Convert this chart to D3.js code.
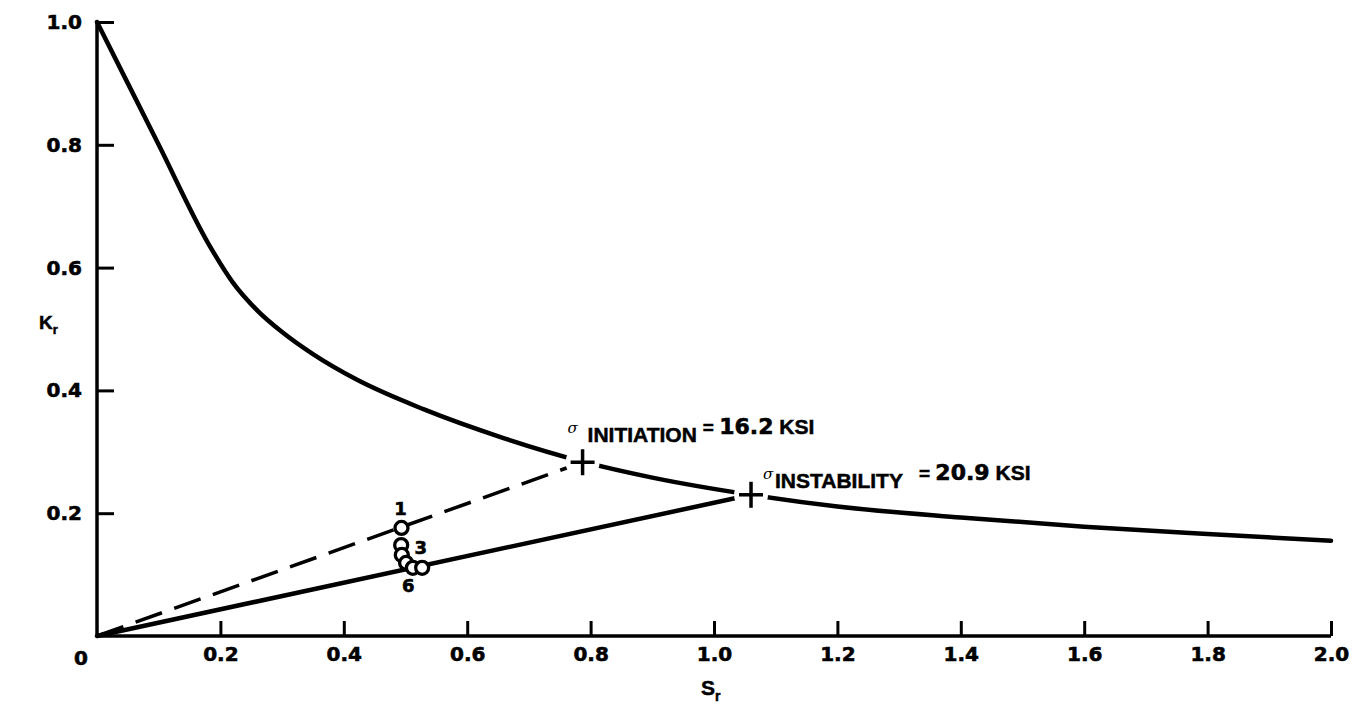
<!DOCTYPE html>
<html>
<head>
<meta charset="utf-8">
<script src="https://cdn.jsdelivr.net/npm/d3@7"></script>
<style>
  html, body { margin: 0; padding: 0; background: #fff; }
  svg { display: block; }
  .num { font-family: "DejaVu Sans", sans-serif; font-weight: bold; stroke: #000; stroke-width: 0.6px; }
  .word { font-family: "Liberation Sans", Arial, sans-serif; font-weight: bold; stroke: #000; stroke-width: 0.5px; }
</style>
</head>
<body>
<script>
// Residual strength curve K_r vs S_r
const curveS = [0, 0.10, 0.18, 0.22, 0.26, 0.30, 0.35, 0.42, 0.53, 0.66, 0.787, 0.90, 1.06, 1.2, 1.4, 1.6, 1.8, 2.0];
const curveK = [1.0, 0.80, 0.64, 0.576, 0.530, 0.495, 0.459, 0.418, 0.369, 0.322, 0.284, 0.258, 0.230, 0.211, 0.193, 0.178, 0.166, 0.155];

// Load lines from the origin to the two critical points
const initiationS = [0, 0.787];
const initiationK = [0, 0.283];
const instabilityS = [0, 1.06];
const instabilityK = [0, 0.230];

// Test points
const pointS = [0.4935, 0.493, 0.494, 0.501, 0.512, 0.527];
const pointK = [0.176, 0.148, 0.132, 0.119, 0.111, 0.111];
const pointLabels = ["1", "", "3", "", "", "6"];

const xTicks = [0.2, 0.4, 0.6, 0.8, 1.0, 1.2, 1.4, 1.6, 1.8, 2.0];
const yTicks = [0.2, 0.4, 0.6, 0.8, 1.0];

const W = 1360, H = 705;
const svg = d3.select("body").append("svg").attr("width", W).attr("height", H);

const x = d3.scaleLinear().domain([0, 2]).range([97, 1331]);
const y = d3.scaleLinear().domain([0, 1]).range([636, 22]);

const critical = [
  { s: initiationS[1], k: initiationK[1] },
  { s: instabilityS[1], k: instabilityK[1] }
];

// mask leaving small gaps in the lines around the critical-point crosses
const defs = svg.append("defs");
const mask = defs.append("mask").attr("id", "gaps").attr("maskUnits", "userSpaceOnUse")
  .attr("x", 0).attr("y", 0).attr("width", W).attr("height", H);
mask.append("rect").attr("width", W).attr("height", H).attr("fill", "#fff");
mask.selectAll("circle").data(critical).join("circle")
  .attr("cx", d => x(d.s)).attr("cy", d => y(d.k)).attr("r", 17).attr("fill", "#000");

// axes
const xAxis = d3.axisBottom(x).tickValues(xTicks).tickFormat(d3.format(".1f"))
  .tickSizeInner(-15).tickSizeOuter(0).tickPadding(11);
const gx = svg.append("g").attr("transform", `translate(0,${y(0)})`).call(xAxis);
gx.select(".domain").attr("stroke-width", 3.5).attr("d", `M${x(0)},0H${x(2)}`);
gx.selectAll(".tick line").attr("stroke-width", 3);
gx.selectAll(".tick text").attr("class", "num").attr("font-size", 20).attr("fill", "#000");

const yAxis = d3.axisLeft(y).tickValues(yTicks).tickFormat(d3.format(".1f"))
  .tickSizeInner(-17).tickSizeOuter(0).tickPadding(15);
const gy = svg.append("g").attr("transform", `translate(${x(0)},0)`).call(yAxis);
gy.select(".domain").attr("stroke-width", 3.5).attr("d", `M0,${y(0)}V${y(1)}`);
gy.selectAll(".tick line").attr("stroke-width", 3);
gy.selectAll(".tick text").attr("class", "num").attr("font-size", 20).attr("fill", "#000");

svg.append("text").attr("class", "num").attr("font-size", 20)
  .attr("x", 81).attr("y", 665).attr("text-anchor", "middle").text("0");

// axis titles
const xt = svg.append("text").attr("class", "word").attr("x", 701).attr("y", 695);
xt.append("tspan").attr("font-size", 21).text("S");
xt.append("tspan").attr("font-size", 14).attr("dy", 6).text("r");

const yt = svg.append("text").attr("class", "word").attr("x", 39).attr("y", 329);
yt.append("tspan").attr("font-size", 19).text("K");
yt.append("tspan").attr("font-size", 13).attr("dy", 5).text("r");

// curves
const lines = svg.append("g").attr("mask", "url(#gaps)")
  .attr("fill", "none").attr("stroke", "#000").attr("stroke-linecap", "round");

const curveLine = d3.line().x(d => x(d[0])).y(d => y(d[1])).curve(d3.curveMonotoneX);
lines.append("path").attr("d", curveLine(d3.zip(curveS, curveK))).attr("stroke-width", 4.5);

const straight = d3.line().x(d => x(d[0])).y(d => y(d[1]));
lines.append("path").attr("d", straight(d3.zip(instabilityS, instabilityK))).attr("stroke-width", 4.5);
lines.append("path").attr("d", straight(d3.zip(initiationS, initiationK)))
  .attr("stroke-width", 3.5).attr("stroke-linecap", "butt").attr("stroke-dasharray", "28,13");

// critical-point crosses
const cross = svg.append("g").attr("stroke", "#000").attr("stroke-width", 3.5);
critical.forEach(d => {
  const cx = x(d.s), cy = y(d.k);
  cross.append("line").attr("x1", cx - 12).attr("x2", cx + 12).attr("y1", cy).attr("y2", cy);
  cross.append("line").attr("x1", cx).attr("x2", cx).attr("y1", cy - 13).attr("y2", cy + 13);
});

// test points
const pts = d3.zip(pointS, pointK, pointLabels);
svg.append("g").selectAll("circle").data(pts).join("circle")
  .attr("cx", d => x(d[0])).attr("cy", d => y(d[1])).attr("r", 6.5)
  .attr("fill", "#fff").attr("stroke", "#000").attr("stroke-width", 3.3);

const lbl = (i, dx, dy) => svg.append("text").attr("class", "num").attr("font-size", 18)
  .attr("text-anchor", "middle").attr("x", x(pointS[i]) + dx).attr("y", y(pointK[i]) + dy)
  .text(pointLabels[i]);
lbl(0, -1, -13);
lbl(2, 19, -1);
lbl(5, -14, 24);

// annotations
function annotate(d, name, value, dxSigma, dxName, dyName, gap) {
  const cx = x(d.s), cy = y(d.k) + dyName;
  svg.append("text").attr("x", cx + dxSigma).attr("y", cy - 9)
    .attr("font-family", "DejaVu Serif, serif").attr("font-style", "italic")
    .attr("font-size", 15).text("σ");
  const t = svg.append("text").attr("x", cx + dxName).attr("y", cy).attr("class", "word");
  t.append("tspan").attr("font-size", 21).text(name);
  t.append("tspan").attr("font-size", 19).attr("dy", -8).attr("dx", gap).text("= ");
  t.append("tspan").attr("class", "num").attr("font-size", 22).text(value);
  t.append("tspan").attr("font-size", 21).text(" KSI");
}
annotate(critical[0], "INITIATION", "16.2", -15, 5, -20, 6);
annotate(critical[1], "INSTABILITY", "20.9", 12, 24, -7, 16);
</script>
</body>
</html>
